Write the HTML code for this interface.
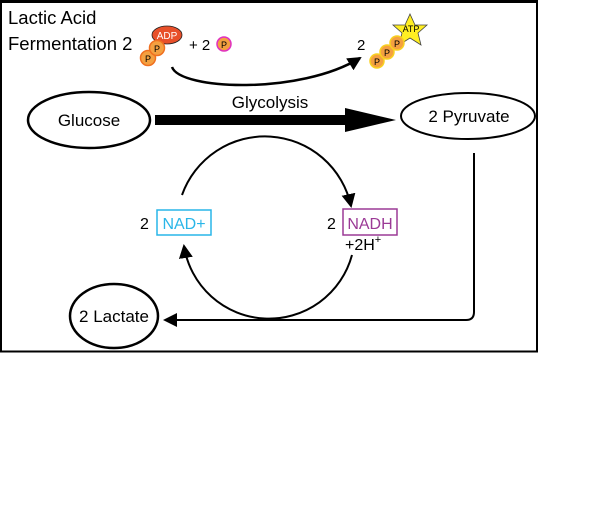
<!DOCTYPE html>
<html><head><style>
html,body{margin:0;padding:0;background:#fff;}
svg{display:block;font-family:"Liberation Sans",sans-serif;}
</style></head><body>
<svg width="605" height="518" viewBox="0 0 605 518" xmlns="http://www.w3.org/2000/svg">
<defs>
<marker id="ah2" markerWidth="14" markerHeight="14" refX="12" refY="7" orient="auto" markerUnits="userSpaceOnUse">
<path d="M0,0 L14,7 L0,14 Z" fill="#000"/></marker>
</defs>
<rect x="1" y="1.5" width="536" height="350" fill="none" stroke="#000" stroke-width="2"/>
<line x1="0" y1="1.5" x2="538" y2="1.5" stroke="#000" stroke-width="3"/>
<text x="8" y="24" font-size="18.5">Lactic Acid</text>
<text x="8" y="50" font-size="18.5">Fermentation 2</text>
<ellipse cx="167" cy="35" rx="15" ry="9" fill="#e8502a" stroke="#222" stroke-width="0.8"/>
<text x="167" y="39" font-size="10" fill="#fff" text-anchor="middle">ADP</text>
<circle cx="148" cy="58" r="7.5" fill="#f4a040" stroke="#f07020" stroke-width="1.5"/>
<text x="148" y="62" font-size="9" text-anchor="middle">P</text>
<circle cx="157" cy="48" r="7.5" fill="#f4a040" stroke="#f07020" stroke-width="1.5"/>
<text x="157" y="52" font-size="9" text-anchor="middle">P</text>
<text x="189" y="50" font-size="15">+ 2</text>
<circle cx="224" cy="44" r="7" fill="#f4a040" stroke="#e030c0" stroke-width="1.5"/>
<text x="224" y="48" font-size="9" text-anchor="middle">P</text>
<path d="M172,67 C180,90 300,95 360,58" fill="none" stroke="#000" stroke-width="2.5" marker-end="url(#ah2)"/>
<text x="357" y="50" font-size="15">2</text>
<polygon points="410,14 415,25 427,25 418,33 421,45 410,38 399,45 402,33 393,25 405,25" fill="#ffee22" stroke="#444" stroke-width="0.8"/>
<text x="411" y="32" font-size="9" text-anchor="middle">ATP</text>
<circle cx="377" cy="61" r="7" fill="#f4a040" stroke="#f8d020" stroke-width="1.5"/>
<text x="377" y="65" font-size="9" text-anchor="middle">P</text>
<circle cx="387" cy="52" r="7" fill="#f4a040" stroke="#f8d020" stroke-width="1.5"/>
<text x="387" y="56" font-size="9" text-anchor="middle">P</text>
<circle cx="397" cy="43" r="7" fill="#f4a040" stroke="#f8d020" stroke-width="1.5"/>
<text x="397" y="47" font-size="9" text-anchor="middle">P</text>
<ellipse cx="89" cy="120" rx="61" ry="28" fill="#fff" stroke="#000" stroke-width="2.5"/>
<text x="89" y="126" font-size="17" text-anchor="middle">Glucose</text>
<polygon points="155,115 345,115 345,108 396,120 345,132 345,125 155,125" fill="#000"/>
<text x="270" y="108" font-size="17" text-anchor="middle">Glycolysis</text>
<ellipse cx="468" cy="116" rx="67" ry="23" fill="#fff" stroke="#000" stroke-width="2"/>
<text x="469" y="122" font-size="17" text-anchor="middle">2 Pyruvate</text>
<path d="M474,153 L474,312 Q474,320 466,320 L165,320" fill="none" stroke="#000" stroke-width="2" marker-end="url(#ah2)"/>
<ellipse cx="114" cy="316" rx="44" ry="32" fill="#fff" stroke="#000" stroke-width="2.5"/>
<text x="114" y="322" font-size="17" text-anchor="middle">2 Lactate</text>
<path d="M182,195 A88,88 0 0 1 351,206" fill="none" stroke="#000" stroke-width="2" marker-end="url(#ah2)"/>
<path d="M352,255 A86,86 0 0 1 184,246" fill="none" stroke="#000" stroke-width="2" marker-end="url(#ah2)"/>
<text x="140" y="229" font-size="16">2</text>
<rect x="157" y="210" width="54" height="25" fill="#fff" stroke="#29b6e8" stroke-width="1.5"/>
<text x="184" y="229" font-size="16" fill="#29b6e8" text-anchor="middle">NAD+</text>
<text x="327" y="229" font-size="16">2</text>
<rect x="343" y="209" width="54" height="26" fill="#fff" stroke="#9b3a96" stroke-width="1.5"/>
<text x="370" y="229" font-size="16" fill="#9b3a96" text-anchor="middle">NADH</text>
<text x="345" y="250" font-size="16">+2H<tspan font-size="11" dy="-7">+</tspan></text>
</svg>
</body></html>
